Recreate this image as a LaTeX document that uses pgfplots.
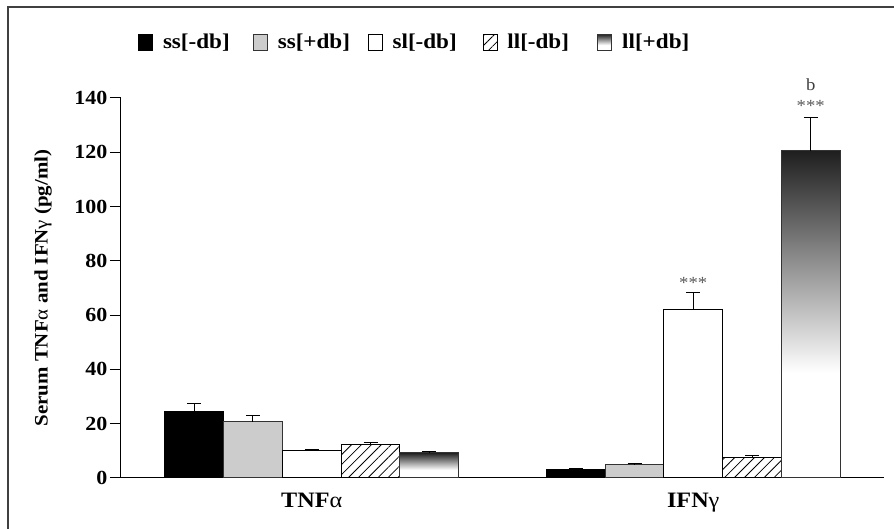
\documentclass[border=0pt]{standalone}
\usepackage{fontspec}
\setmainfont{Liberation Serif}[FakeStretch=1.1]
\usepackage{pgfplots}
\pgfplotsset{compat=1.18}
\usetikzlibrary{patterns.meta}
\pgfdeclareverticalshading{llgrad}{100bp}{color(0bp)=(white); color(25bp)=(white); color(41bp)=(white); color(75bp)=(black!88); color(100bp)=(black!88)}
\definecolor{lgray}{HTML}{CCCCCC}
\newcommand{\lbl}{\fontsize{19}{22}\selectfont\bfseries}
\newcommand{\tkl}{\fontsize{20}{22}\selectfont\bfseries}
\newcommand{\xl}{\fontsize{22}{24}\selectfont\bfseries}
\newcommand{\lgf}{\fontsize{21}{24}\selectfont\bfseries}
\newcommand{\leg}[1]{\makebox[66pt][l]{#1}}
\begin{document}
\begin{tikzpicture}
\useasboundingbox (-121pt,-51pt) rectangle (773pt,478pt);
\draw[line width=1.2pt, black!75] (-113pt,-51pt) -- (-113pt,471pt) -- (773pt,471pt);
\begin{axis}[
  scale only axis,
  width=763pt, height=380pt,
  xmin=-0.5, xmax=1.5, ymin=0, ymax=140,
  ybar, bar width=0.154,
  clip=false,
  axis lines*=left,
  axis line style={line width=1pt},
  tick align=outside,
  major tick length=11pt,
  tick style={black, line width=1pt},
  ytick={0,20,...,140},
  xtick={0,1},
  xticklabels={TNF{\mdseries α}, IFN{\mdseries γ}},
  x tick style={draw=none},
  extra x ticks={-0.5,0.5,1.5},
  extra x tick labels={},
  extra x tick style={tick style={black, line width=1pt}, major tick length=10pt},
  /pgf/number format/assume math mode=true,
  yticklabel style={font=\tkl, xshift=1pt},
  xticklabel style={font=\xl, yshift=-1pt},
  every axis y label/.style={at={(axis description cs:-0.102,0.5)}, anchor=center, rotate=90},
  ylabel={Serum TNF{\mdseries α} and IFN{\mdseries γ} (pg/ml)},
  label style={font=\lbl},
  legend columns=5,
  legend style={draw=none, fill=none, at={(0.0223,1.147)}, anchor=west, font=\lgf, inner sep=0pt,
    /tikz/every odd column/.append style={column sep=8pt},
    /tikz/every even column/.append style={column sep=22pt}},
  legend image code/.code={\draw[#1, line width=0.8pt] (0pt,-8pt) rectangle (14pt,8pt);},
  error bars/y dir=plus, error bars/y explicit,
  error bars/error bar style={line width=1pt, black},
  error bars/error mark options={rotate=90, mark size=7pt, line width=1pt, black},
]
\addplot[bar shift=-0.308, fill=black, draw=black, line width=1pt]
  coordinates {(0,24.6) +- (0,2.9) (1,3.2) +- (0,0.2)};
\addlegendentry{\leg{ss[-db]}}
\addplot[bar shift=-0.154, fill=lgray, draw=black!80, line width=1pt]
  coordinates {(0,20.7) +- (0,2.2) (1,4.8) +- (0,0.6)};
\addlegendentry{\leg{ss[+db]}}
\addplot[bar shift=0, fill=white, draw=black, line width=1pt]
  coordinates {(0,10.0) +- (0,0.6) (1,62.2) +- (0,6.0)};
\addlegendentry{\leg{sl[-db]}}
\addplot[bar shift=0.154, draw=black, line width=1pt, pattern={Lines[angle=45, distance=7pt, line width=0.8pt]}]
  coordinates {(0,12.4) +- (0,0.7) (1,7.5) +- (0,0.7)};
\addlegendentry{\leg{ll[-db]}}
\addplot[bar shift=0.308, draw=black!80, line width=1pt, shade, shading=llgrad]
  coordinates {(0,9.3) +- (0,0.6)};
\addlegendentry{ll[+db]}
\addplot[bar shift=0.308, draw=black!80, line width=1pt, shade, shading=llgrad, forget plot]
  coordinates {(1,120.5) +- (0,12.2)};
\node[font=\fontsize{17}{17}\selectfont, text=black!65] at (axis cs:1,72) {***};
\node[font=\fontsize{17}{17}\selectfont, text=black!65] at (axis cs:1.308,137) {***};
\node[font=\fontsize{17}{17}\selectfont, text=black!75] at (axis cs:1.308,145) {b};
\end{axis}
\end{tikzpicture}
\end{document}
